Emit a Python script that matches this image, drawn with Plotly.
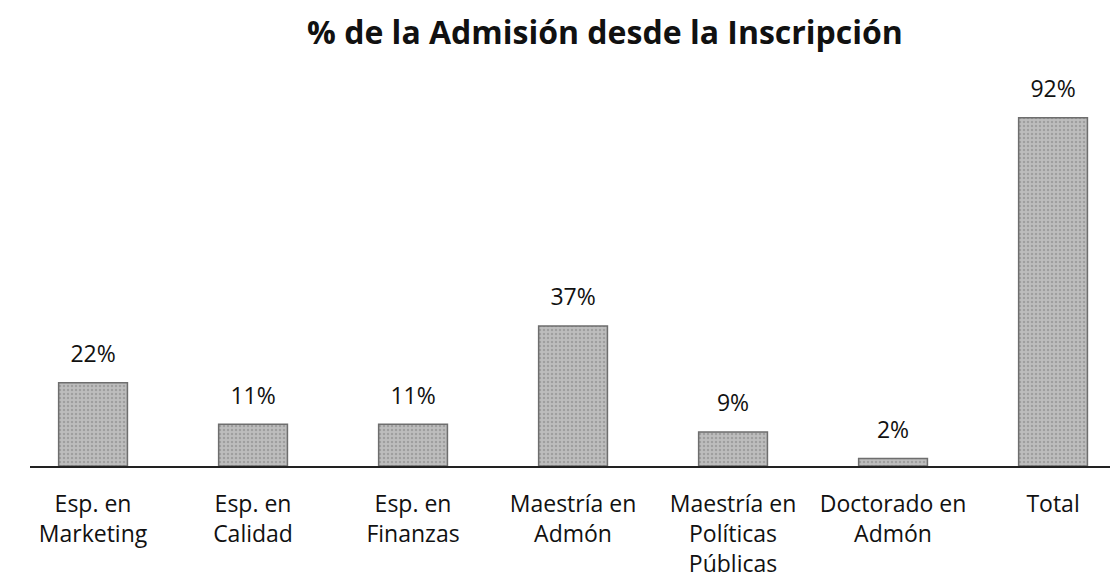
import plotly.graph_objects as go

categories = ["Esp. en<br>Marketing", "Esp. en<br>Calidad", "Esp. en<br>Finanzas",
              "Maestría en<br>Admón", "Maestría en<br>Políticas<br>Públicas",
              "Doctorado en<br>Admón", "Total"]
values = [22, 11, 11, 37, 9, 2, 92]
labels = [f"{v}%" for v in values]

FONT = "Open Sans, Lato, sans-serif"
xs = list(range(len(categories)))

fig = go.Figure()
fig.add_trace(go.Bar(
    x=xs, y=values, width=0.43, hoverinfo="skip",
    marker=dict(color="#bdbdbd", line=dict(color="#6e6e6e", width=1.5),
                pattern=dict(shape=".", fgcolor="#7f7f7f", size=4, solidity=0.3)),
))
fig.add_trace(go.Scatter(
    x=xs, y=values, mode="markers+text", text=labels, textposition="top center",
    marker=dict(size=22, opacity=0), cliponaxis=False,
    textfont=dict(size=23, color="#111", family=FONT),
))
fig.update_layout(
    width=1120, height=580, plot_bgcolor="white", paper_bgcolor="white",
    margin=dict(l=22, r=18, t=72, b=122),
    title=dict(text="<b>% de la Admisión desde la Inscripción</b>", x=0.533, xanchor="center",
               y=0.957, yanchor="middle",
               font=dict(size=32, color="#111", family=FONT)),
    showlegend=False,
)
fig.update_xaxes(tickmode="array", tickvals=xs, ticktext=categories,
                 range=[-0.394, 6.356], showline=True, linecolor="#222", linewidth=1.5,
                 ticks="", showgrid=False, ticklabelstandoff=17, automargin=False,
                 tickfont=dict(size=23, color="#111", family=FONT))
fig.update_yaxes(range=[0, 102], visible=False, showgrid=False)
fig.write_html("out.html")
